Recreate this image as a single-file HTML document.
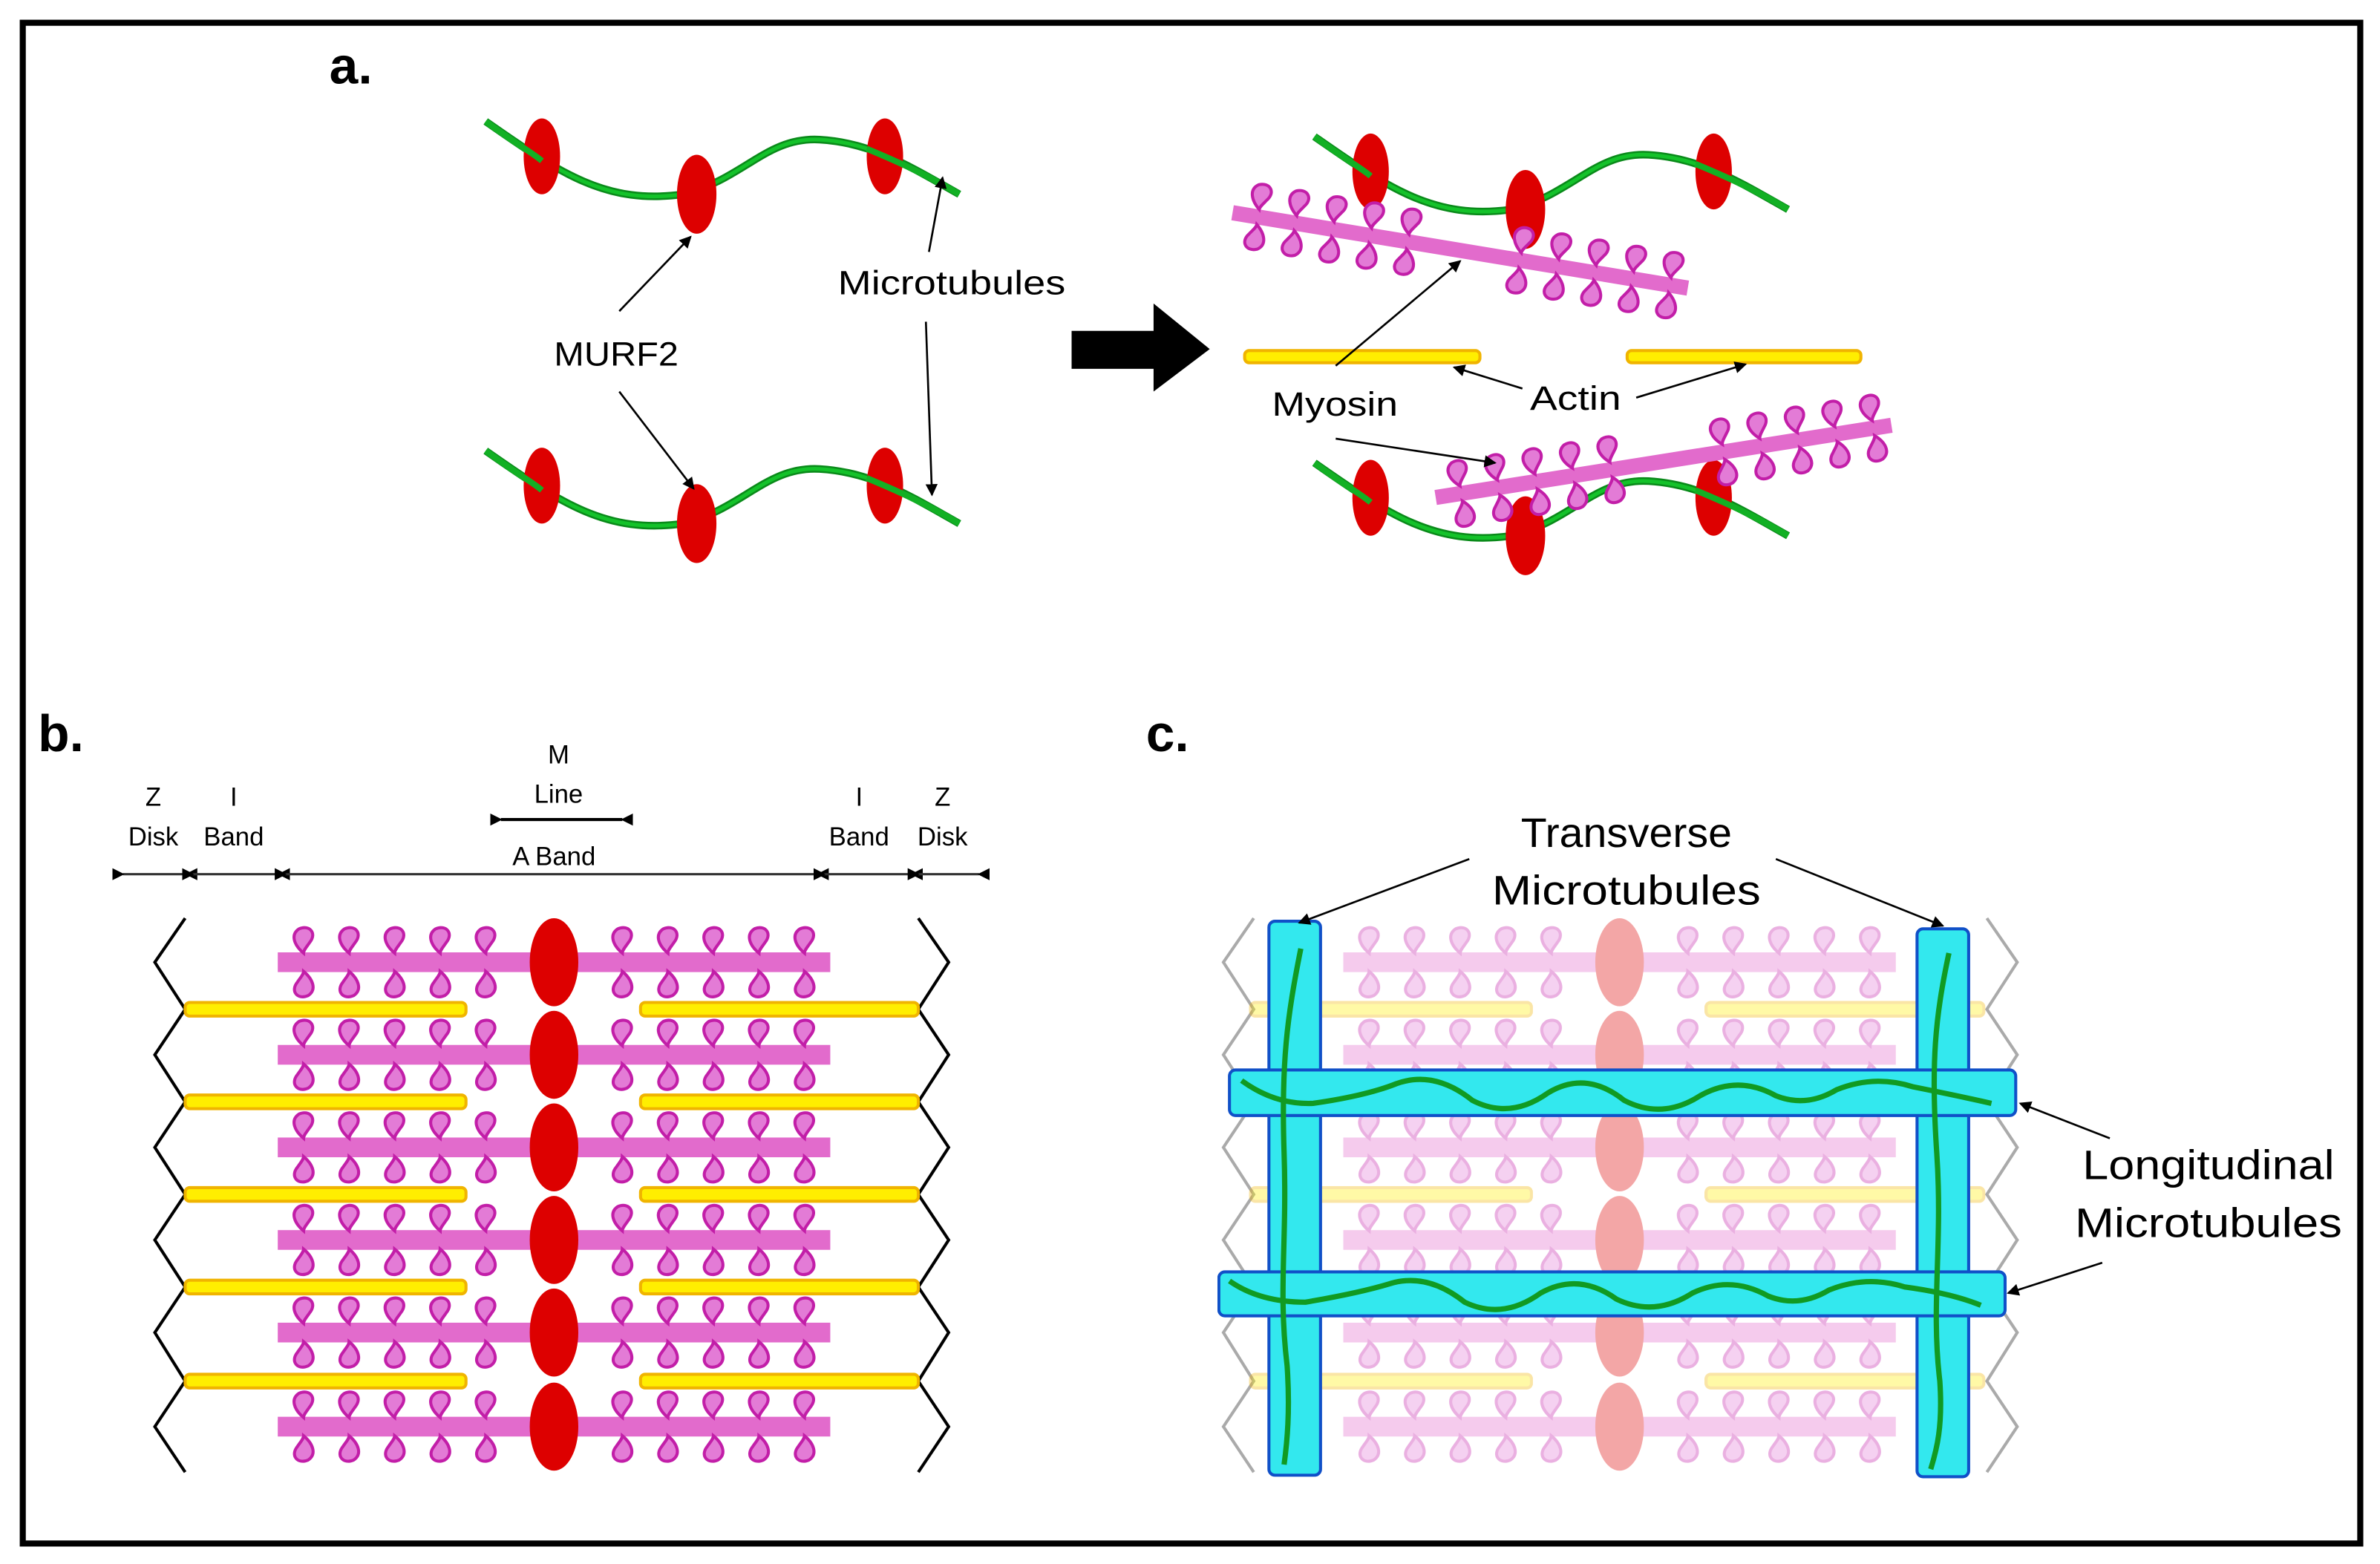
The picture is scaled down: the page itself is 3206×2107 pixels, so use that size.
<!DOCTYPE html>
<html><head><meta charset="utf-8"><style>
html,body{margin:0;padding:0;background:#fff;}
svg{display:block;}
text{font-family:"Liberation Sans",sans-serif;fill:#000;}
</style></head><body>
<svg width="3206" height="2107" viewBox="0 0 1568 1030.5" preserveAspectRatio="none" xmlns="http://www.w3.org/2000/svg">
<defs>
<marker id="ah" markerWidth="8" markerHeight="8" refX="7" refY="4" orient="auto" markerUnits="userSpaceOnUse"><path d="M0,0 L8,4 L0,8 z" fill="#000"/></marker>
<marker id="ahs" markerWidth="8" markerHeight="8" refX="1" refY="4" orient="auto-start-reverse" markerUnits="userSpaceOnUse"><path d="M0,4 L8,0 L8,8 z" fill="#000"/></marker>
<g id="loopU"><path d="M0,0 C-6,-5 -9,-12 -3,-16 C4,-19 9,-13 4,-7 C2,-4 0,-2 0,0z" fill="#e37bd6" stroke="#c21ea8" stroke-width="2"/></g>
<g id="loopD"><path d="M0,0 C6,5 9,12 3,16 C-4,19 -9,13 -4,7 C-2,4 0,2 0,0z" fill="#e37bd6" stroke="#c21ea8" stroke-width="2"/></g>
<g id="myoB">
 <rect x="-182" y="-6.5" width="364" height="13" fill="#e26bcc"/>
 <g transform="translate(-165,-6)"><use href="#loopU"/></g><g transform="translate(-135,-6)"><use href="#loopU"/></g><g transform="translate(-105,-6)"><use href="#loopU"/></g><g transform="translate(-75,-6)"><use href="#loopU"/></g><g transform="translate(-45,-6)"><use href="#loopU"/></g>
 <g transform="translate(45,-6)"><use href="#loopU"/></g><g transform="translate(75,-6)"><use href="#loopU"/></g><g transform="translate(105,-6)"><use href="#loopU"/></g><g transform="translate(135,-6)"><use href="#loopU"/></g><g transform="translate(165,-6)"><use href="#loopU"/></g>
 <g transform="translate(-165,6)"><use href="#loopD"/></g><g transform="translate(-135,6)"><use href="#loopD"/></g><g transform="translate(-105,6)"><use href="#loopD"/></g><g transform="translate(-75,6)"><use href="#loopD"/></g><g transform="translate(-45,6)"><use href="#loopD"/></g>
 <g transform="translate(45,6)"><use href="#loopD"/></g><g transform="translate(75,6)"><use href="#loopD"/></g><g transform="translate(105,6)"><use href="#loopD"/></g><g transform="translate(135,6)"><use href="#loopD"/></g><g transform="translate(165,6)"><use href="#loopD"/></g>
</g>
<g id="myoA">
 <rect x="-152" y="-5" width="304" height="10" fill="#e26bcc"/>
 <g transform="translate(-135,-5)"><use href="#loopU"/></g><g transform="translate(-110,-5)"><use href="#loopU"/></g><g transform="translate(-85,-5)"><use href="#loopU"/></g><g transform="translate(-60,-5)"><use href="#loopU"/></g><g transform="translate(-35,-5)"><use href="#loopU"/></g>
 <g transform="translate(40,-5)"><use href="#loopU"/></g><g transform="translate(65,-5)"><use href="#loopU"/></g><g transform="translate(90,-5)"><use href="#loopU"/></g><g transform="translate(115,-5)"><use href="#loopU"/></g><g transform="translate(140,-5)"><use href="#loopU"/></g>
 <g transform="translate(-135,5)"><use href="#loopD"/></g><g transform="translate(-110,5)"><use href="#loopD"/></g><g transform="translate(-85,5)"><use href="#loopD"/></g><g transform="translate(-60,5)"><use href="#loopD"/></g><g transform="translate(-35,5)"><use href="#loopD"/></g>
 <g transform="translate(40,5)"><use href="#loopD"/></g><g transform="translate(65,5)"><use href="#loopD"/></g><g transform="translate(90,5)"><use href="#loopD"/></g><g transform="translate(115,5)"><use href="#loopD"/></g><g transform="translate(140,5)"><use href="#loopD"/></g>
</g>
<g id="actL"><rect x="122" y="-4.5" width="185" height="9" rx="3" fill="#ffee00" stroke="#f0b400" stroke-width="2"/></g>
<g id="actR"><rect x="422" y="-4.5" width="183" height="9" rx="3" fill="#ffee00" stroke="#f0b400" stroke-width="2"/></g>
<g id="sarc">
 <use href="#actL" y="665"/><use href="#actL" y="726"/><use href="#actL" y="787"/><use href="#actL" y="848"/><use href="#actL" y="910"/>
 <use href="#actR" y="665"/><use href="#actR" y="726"/><use href="#actR" y="787"/><use href="#actR" y="848"/><use href="#actR" y="910"/>
 <use href="#myoB" x="365" y="634"/><use href="#myoB" x="365" y="695"/><use href="#myoB" x="365" y="756"/><use href="#myoB" x="365" y="817"/><use href="#myoB" x="365" y="878"/><use href="#myoB" x="365" y="940"/>
 <g fill="#dd0000"><ellipse cx="365" cy="634" rx="16" ry="29"/><ellipse cx="365" cy="695" rx="16" ry="29"/><ellipse cx="365" cy="756" rx="16" ry="29"/><ellipse cx="365" cy="817" rx="16" ry="29"/><ellipse cx="365" cy="878" rx="16" ry="29"/><ellipse cx="365" cy="940" rx="16" ry="29"/></g>
</g>
<g id="zz"><polyline fill="none" stroke-width="2" points="122,605 102,634 122,665 102,695 122,726 102,756 122,787 102,817 122,848 102,878 122,910 102,940 122,970"/><polyline fill="none" stroke-width="2" points="605,605 625,634 605,665 625,695 605,726 625,756 605,787 625,817 605,848 625,878 605,910 625,940 605,970"/></g>
<g id="mtA">
 <path d="M320,80 C370,115 400,135 450,128 C490,118 505,90 540,92 C575,94 600,110 632,128" fill="none" stroke="#0a8a1a" stroke-width="5"/>
 <path d="M320,80 C370,115 400,135 450,128 C490,118 505,90 540,92 C575,94 600,110 632,128" fill="none" stroke="#14c22a" stroke-width="2.5"/>
 <g fill="#dd0000"><ellipse cx="357" cy="103" rx="12" ry="25"/><ellipse cx="459" cy="128" rx="13" ry="26"/><ellipse cx="583" cy="103" rx="12" ry="25"/></g>
 <path d="M320,80 C340,95 350,100 357,106" fill="none" stroke="#12b024" stroke-width="4"/>
 <path d="M571,98 C600,110 615,118 632,128" fill="none" stroke="#12b024" stroke-width="4"/>
</g>
</defs>
<rect x="0" y="0" width="1568" height="1030.5" fill="#fff"/>
<rect x="15" y="15" width="1540" height="1002" fill="none" stroke="#000" stroke-width="4"/>

<!-- panel a -->
<text x="217" y="55" font-size="34" font-weight="bold">a.</text>
<use href="#mtA"/>
<use href="#mtA" y="217"/>
<text x="365" y="241" font-size="22" textLength="82" lengthAdjust="spacingAndGlyphs">MURF2</text>
<text x="552" y="194" font-size="22" textLength="150" lengthAdjust="spacingAndGlyphs">Microtubules</text>
<g stroke="#000" stroke-width="1.3" fill="none" marker-end="url(#ah)">
<line x1="408" y1="205" x2="455" y2="156"/>
<line x1="408" y1="258" x2="457" y2="322"/>
<line x1="612" y1="166" x2="621" y2="117"/>
<line x1="610" y1="212" x2="614" y2="326"/>
</g>
<path d="M706,218 L760,218 L760,200 L797,230 L760,258 L760,243 L706,243 z" fill="#000"/>

<!-- right a -->
<use href="#mtA" x="546" y="10"/>
<use href="#mtA" x="546" y="225"/>
<g transform="translate(962,165) rotate(9.4)"><use href="#myoA"/></g>
<g transform="translate(1096,304) rotate(-9)"><use href="#myoA"/></g>
<rect x="820" y="231" width="155" height="8" rx="3" fill="#ffee00" stroke="#f0b400" stroke-width="2"/>
<rect x="1072" y="231" width="154" height="8" rx="3" fill="#ffee00" stroke="#f0b400" stroke-width="2"/>
<text x="838" y="274" font-size="22" textLength="83" lengthAdjust="spacingAndGlyphs">Myosin</text>
<text x="1008" y="270" font-size="22" textLength="60" lengthAdjust="spacingAndGlyphs">Actin</text>
<g stroke="#000" stroke-width="1.3" fill="none" marker-end="url(#ah)">
<line x1="880" y1="241" x2="962" y2="172"/>
<line x1="880" y1="289" x2="985" y2="305"/>
<line x1="1003" y1="256" x2="958" y2="242"/>
<line x1="1078" y1="262" x2="1150" y2="240"/>
</g>

<!-- panel b -->
<text x="25" y="495" font-size="34" font-weight="bold">b.</text>
<g font-size="17" text-anchor="middle">
<text x="101" y="531">Z</text><text x="101" y="557">Disk</text>
<text x="154" y="531">I</text><text x="154" y="557">Band</text>
<text x="368" y="503">M</text><text x="368" y="529">Line</text>
<text x="365" y="570">A Band</text>
<text x="566" y="531">I</text><text x="566" y="557">Band</text>
<text x="621" y="531">Z</text><text x="621" y="557">Disk</text>
</g>
<g stroke="#333" stroke-width="1.5" marker-start="url(#ahs)" marker-end="url(#ahs)">
<line x1="81" y1="576" x2="123" y2="576"/>
<line x1="127" y1="576" x2="184" y2="576"/>
<line x1="188" y1="576" x2="539" y2="576"/>
<line x1="543" y1="576" x2="601" y2="576"/>
<line x1="605" y1="576" x2="645" y2="576"/>
<line x1="330" y1="540" x2="410" y2="540" stroke="#000" stroke-width="2"/>
</g>
<use href="#zz" stroke="#000"/>
<use href="#sarc"/>

<!-- panel c -->
<text x="755" y="495" font-size="34" font-weight="bold">c.</text>
<use href="#zz" x="704" stroke="#aaa"/>
<g opacity="0.35"><use href="#sarc" x="702"/></g>
<g fill="#33e8ee" stroke="#1050c8" stroke-width="2">
<rect x="836" y="607" width="34" height="365" rx="4"/>
<rect x="1263" y="612" width="34" height="361" rx="4"/>
<rect x="810" y="705" width="518" height="30" rx="4"/>
<rect x="803" y="838" width="518" height="29" rx="4"/>
</g>
<g fill="none" stroke="#119a22" stroke-width="3.5">
<path d="M857,625 C848,670 844,700 846,760 C848,820 842,850 848,900 C850,930 848,950 846,965"/>
<path d="M1284,628 C1275,670 1272,700 1276,760 C1280,820 1272,860 1278,910 C1280,940 1276,955 1272,968"/>
<path d="M818,712 Q840,728 865,727 Q900,722 920,714 Q945,705 970,725 Q995,738 1020,720 Q1045,705 1070,725 Q1095,738 1120,722 Q1145,708 1170,722 Q1190,730 1210,718 Q1235,708 1260,716 Q1290,722 1312,727"/>
<path d="M810,844 Q830,858 860,858 Q895,852 915,846 Q940,838 965,858 Q990,870 1015,852 Q1040,838 1065,856 Q1090,868 1115,852 Q1140,840 1165,854 Q1185,862 1205,850 Q1230,840 1255,848 Q1285,852 1305,860"/>
</g>
<g font-size="27">
<text x="1002" y="558" textLength="139" lengthAdjust="spacingAndGlyphs">Transverse</text>
<text x="983" y="596" textLength="177" lengthAdjust="spacingAndGlyphs">Microtubules</text>
<text x="1372" y="777" textLength="166" lengthAdjust="spacingAndGlyphs">Longitudinal</text>
<text x="1367" y="815" textLength="176" lengthAdjust="spacingAndGlyphs">Microtubules</text>
</g>
<g stroke="#000" stroke-width="1.3" fill="none" marker-end="url(#ah)">
<line x1="968" y1="566" x2="856" y2="608"/>
<line x1="1170" y1="566" x2="1280" y2="610"/>
<line x1="1390" y1="750" x2="1331" y2="727"/>
<line x1="1385" y1="832" x2="1323" y2="852"/>
</g>
</svg>
</body></html>
